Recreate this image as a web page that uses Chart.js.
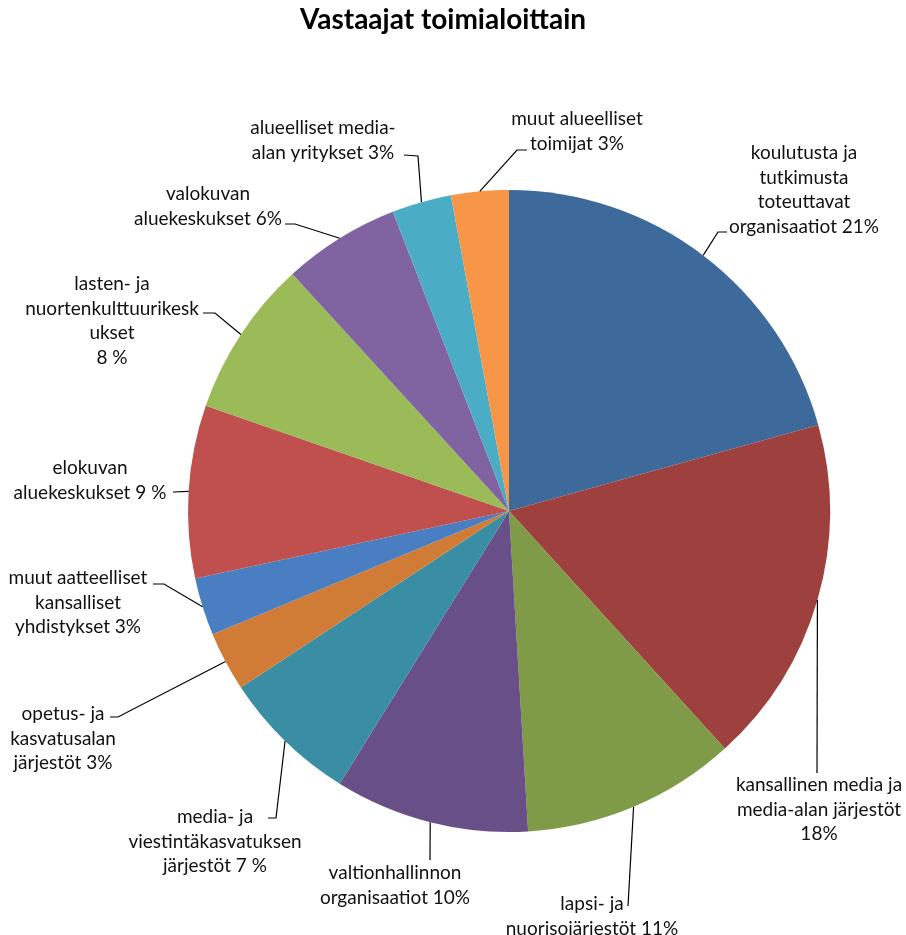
<!DOCTYPE html>
<html>
<head>
<meta charset="utf-8">
<script src="https://cdn.jsdelivr.net/npm/chart.js@4"></script>
<style>
  body { margin: 0; background: #fff; }
  #wrap { width: 906px; height: 935px; }
</style>
</head>
<body>
<div id="wrap"><canvas id="pieChart" width="906" height="935"></canvas></div>
<script>
// Data (percent shares, clockwise from 12 o'clock)
const categories = [
    'koulutusta ja tutkimusta toteuttavat organisaatiot',
    'kansallinen media ja media-alan järjestöt',
    'lapsi- ja nuorisojärjestöt',
    'valtionhallinnon organisaatiot',
    'media- ja viestintäkasvatuksen järjestöt',
    'opetus- ja kasvatusalan järjestöt',
    'muut aatteelliset kansalliset yhdistykset',
    'elokuvan aluekeskukset',
    'lasten- ja nuortenkulttuurikeskukset',
    'valokuvan aluekeskukset',
    'alueelliset media-alan yritykset',
    'muut alueelliset toimijat'
];
const values = [20.7, 17.6, 10.8, 9.8, 6.9, 3.0, 2.9, 8.7, 7.9, 5.9, 3.0, 2.9];
const labelLines = [
    ['koulutusta ja', 'tutkimusta', 'toteuttavat', 'organisaatiot 21%'],
    ['kansallinen media ja', 'media-alan järjestöt', '18%'],
    ['lapsi- ja', 'nuorisojärjestöt 11%'],
    ['valtionhallinnon', 'organisaatiot 10%'],
    ['media- ja', 'viestintäkasvatuksen', 'järjestöt 7 %'],
    ['opetus- ja', 'kasvatusalan', 'järjestöt 3%'],
    ['muut aatteelliset', 'kansalliset', 'yhdistykset 3%'],
    ['elokuvan', 'aluekeskukset 9 %'],
    ['lasten- ja', 'nuortenkulttuurikesk', 'ukset', '8 %'],
    ['valokuvan', 'aluekeskukset 6%'],
    ['alueelliset media-', 'alan yritykset 3%'],
    ['muut alueelliset', 'toimijat 3%']
];
const colors = ['#3d6a9b', '#9e403d', '#7f9b48', '#684f87', '#3a8ea3', '#d07c36',
                '#4a7ec3', '#c0504d', '#9bbb59', '#8064a2', '#4bacc6', '#f79646'];

// label placement: text centre x, first line y, leader bend points
const labelPos = [
    { cx: 804, y: 153, pts: [[718, 232], [727, 232]] },
    { cx: 819, y: 785, pts: [[817, 773]] },
    { cx: 592, y: 904, pts: [[628, 906]] },
    { cx: 395, y: 873, pts: [[430, 860]] },
    { cx: 215, y: 817, pts: [[276, 818], [268, 818]] },
    { cx: 63,  y: 714, pts: [[118, 717], [110, 717]] },
    { cx: 78,  y: 578, pts: [[164, 584], [153, 584]] },
    { cx: 90,  y: 468, pts: [[173, 492]] },
    { cx: 112, y: 284, pts: [[215, 313], [203, 313]] },
    { cx: 208, y: 194, pts: [[295, 224], [285, 224]] },
    { cx: 323, y: 128, pts: [[418, 156], [404, 155]] },
    { cx: 577, y: 119, pts: [[517, 150], [527, 150]] }
];

const FONT = 'Lato, "Open Sans", sans-serif';

const labelPlugin = {
    id: 'pieLabels',
    afterDraw(chart) {
        const ctx = chart.ctx;
        ctx.save();
        // title
        ctx.fillStyle = '#000';
        ctx.font = 'bold 28px ' + FONT;
        ctx.textAlign = 'center';
        ctx.textBaseline = 'middle';
        ctx.fillText('Vastaajat toimialoittain', 443, 20);

        const arcs = chart.getDatasetMeta(0).data;
        arcs.forEach((arc, i) => {
            const p = arc.getProps(['x', 'y', 'startAngle', 'endAngle', 'outerRadius'], true);
            const mid = (p.startAngle + p.endAngle) / 2;
            const sx = p.x + Math.cos(mid) * p.outerRadius;
            const sy = p.y + Math.sin(mid) * p.outerRadius;
            const lp = labelPos[i];
            ctx.strokeStyle = '#000';
            ctx.lineWidth = 1.2;
            ctx.beginPath();
            ctx.moveTo(sx, sy);
            lp.pts.forEach(pt => ctx.lineTo(pt[0], pt[1]));
            ctx.stroke();

            ctx.font = '19px ' + FONT;
            ctx.fillStyle = '#111';
            labelLines[i].forEach((line, j) => {
                ctx.fillText(line, lp.cx, lp.y + j * 24.5);
            });
        });
        ctx.restore();
    }
};

new Chart(document.getElementById('pieChart').getContext('2d'), {
    type: 'pie',
    data: {
        labels: categories,
        datasets: [{
            data: values,
            backgroundColor: colors,
            borderWidth: 0
        }]
    },
    options: {
        responsive: false,
        animation: false,
        layout: {
            padding: { left: 188, right: 76, top: 190, bottom: 103 }
        },
        plugins: {
            legend: { display: false },
            tooltip: { enabled: false }
        }
    },
    plugins: [labelPlugin]
});
</script>
</body>
</html>
